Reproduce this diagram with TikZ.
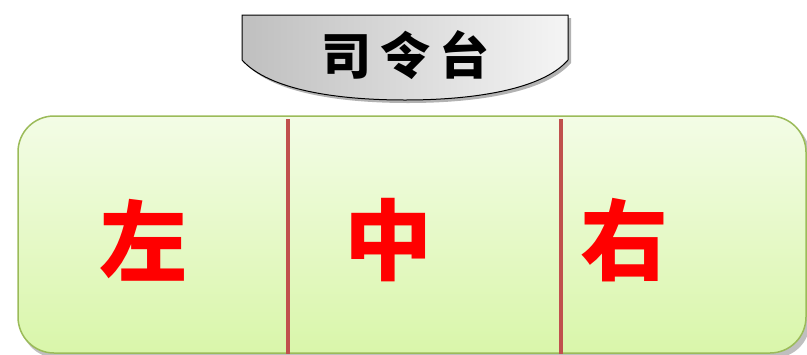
\documentclass[tikz,border=0pt]{standalone}
\usepackage{fontspec}
\newfontfamily\cjk{Noto Sans CJK SC}
\usetikzlibrary{shadows}
\definecolor{boxborder}{HTML}{9BBB59}
\definecolor{boxtop}{HTML}{F3FCE6}
\definecolor{boxbot}{HTML}{D9F6AA}
\definecolor{divider}{HTML}{C0504D}
\tikzset{
  stage/.style={draw=black, line width=1pt, left color=gray!50, right color=gray!8},
  field/.style={draw=boxborder, line width=1.5pt, rounded corners=36pt, top color=boxtop, bottom color=boxbot},
  divline/.style={draw=divider, line width=4pt},
  sidelabel/.style={text=red, font=\cjk\bfseries\fontsize{88}{88}\selectfont, inner sep=0pt},
  stagelabel/.style={text=black, font=\cjk\bfseries\fontsize{50}{50}\selectfont, inner sep=0pt}
}
\begin{document}
\begin{tikzpicture}[x=1pt,y=-1pt]
\useasboundingbox (0,0) rectangle (807,354);
% field
\begin{scope}
\clip (0,0) rectangle (807,354);
\fill[black!25, rounded corners=36pt] (21,120) rectangle (810,358);
\path[field] (18,116) rectangle (806,353);
\end{scope}
% stage
\fill[black!30] (245,18) -- (571,18) -- (571,63) .. controls (545,93) and (475,103) .. (408,103) .. controls (340,103) and (272,93) .. (245,63) -- cycle;
\path[stage] (242,15) -- (568,15) -- (568,60) .. controls (542,90) and (472,100) .. (405,100) .. controls (337,100) and (269,90) .. (242,60) -- cycle;
\node[stagelabel] (stage) at (405,55) {司\hspace{9pt}令\hspace{9pt}台};
% dividers
\coordinate (d1t) at (288,119);
\coordinate (d1b) at (288,354);
\coordinate (d2t) at (561,119);
\coordinate (d2b) at (561,354);
\draw[divline] (d1t) -- (d1b);
\draw[divline] (d2t) -- (d2b);
% labels
\node[sidelabel] (left) at (143,240) {左};
\node[sidelabel] (mid) at (388,240) {中};
\node[sidelabel] (right) at (624,240) {右};
\end{tikzpicture}
\end{document}
